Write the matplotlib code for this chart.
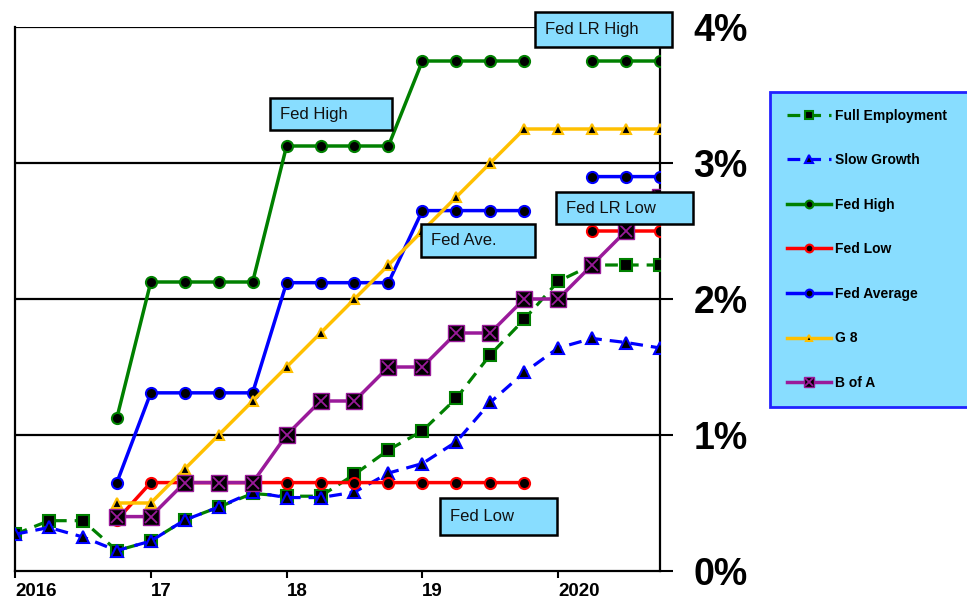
import numpy as np
import matplotlib.pyplot as plt
from matplotlib.patches import Rectangle

plt.rcParams['font.family'] = ['Liberation Sans', 'DejaVu Sans']

# quarterly dates, 2016Q1 .. 2020Q4
quarters = 2016.0 + 0.25 * np.arange(20)
nan = np.nan

# forecasts of the funds rate, %
full_employment = [0.27, 0.37, 0.37, 0.15, 0.22, 0.375, 0.47, 0.57, 0.55, 0.55,
                   0.71, 0.89, 1.03, 1.27, 1.59, 1.85, 2.13, 2.25, 2.25, 2.25]
slow_growth = [0.27, 0.32, 0.25, 0.15, 0.22, 0.375, 0.47, 0.58, 0.54, 0.54,
               0.58, 0.72, 0.79, 0.95, 1.24, 1.46, 1.64, 1.71, 1.68, 1.64]
# the Fed dots and the private forecasts start at 2016Q4
fed_high = [nan, nan, nan, 1.125, 2.125, 2.125, 2.125, 2.125, 3.125, 3.125,
            3.125, 3.125, 3.75, 3.75, 3.75, 3.75, nan, 3.75, 3.75, 3.75]
fed_low = [nan, nan, nan, 0.375, 0.65, 0.65, 0.65, 0.65, 0.65, 0.65,
           0.65, 0.65, 0.65, 0.65, 0.65, 0.65, nan, 2.5, 2.5, 2.5]
fed_average = [nan, nan, nan, 0.65, 1.31, 1.31, 1.31, 1.31, 2.12, 2.12,
               2.12, 2.12, 2.65, 2.65, 2.65, 2.65, nan, 2.9, 2.9, 2.9]
g8 = [nan, nan, nan, 0.5, 0.5, 0.75, 1.0, 1.25, 1.5, 1.75,
      2.0, 2.25, 2.5, 2.75, 3.0, 3.25, 3.25, 3.25, 3.25, 3.25]
b_of_a = [nan, nan, nan, 0.4, 0.4, 0.65, 0.65, 0.65, 1.0, 1.25,
          1.25, 1.5, 1.5, 1.75, 1.75, 2.0, 2.0, 2.25, 2.5, 2.75]

year_ticks = [2016, 2017, 2018, 2019, 2020]
year_labels = ['2016', '17', '18', '19', '2020']
pct_ticks = [0, 1, 2, 3, 4]
pct_labels = ['0%', '1%', '2%', '3%', '4%']

# callout boxes: text, x0, y0, width, height (data units)
callouts = [
    ('Fed High', 2017.88, 3.24, 0.90, 0.235),
    ('Fed LR High', 2019.83, 3.85, 1.01, 0.26),
    ('Fed Ave.', 2018.99, 2.31, 0.84, 0.245),
    ('Fed LR Low', 2019.985, 2.55, 1.01, 0.235),
    ('Fed Low', 2019.13, 0.265, 0.86, 0.27),
]

BOX_BLUE = '#88DDFF'
GREEN = '#008000'
ORANGE = '#FFC000'
PURPLE = '#9A1A9A'

fig = plt.figure(figsize=(9.67, 6.06), dpi=100)
ax = fig.add_axes([15 / 967, 1 - 571 / 606, 645 / 967, 544 / 606])

h_fe, = ax.plot(quarters, full_employment, color=GREEN, lw=2.3,
                ls=(0, (4, 2.5)), marker='s', ms=9, mfc='black', mec=GREEN,
                mew=1.5, label='Full Employment', zorder=3)
h_sg, = ax.plot(quarters, slow_growth, color='#0000FF', lw=2.3,
                ls=(0, (4, 2.5)), marker='^', ms=9, mfc='black', mec='#0000FF',
                mew=1.5, label='Slow Growth', zorder=3.1)
h_fh, = ax.plot(quarters, fed_high, color=GREEN, lw=2.5, marker='o', ms=8,
                mfc='black', mec=GREEN, mew=1.5, label='Fed High', zorder=3.2)
h_fl, = ax.plot(quarters, fed_low, color='#FF0000', lw=2.5, marker='o', ms=8,
                mfc='black', mec='#FF0000', mew=1.5, label='Fed Low', zorder=3.3)
h_fa, = ax.plot(quarters, fed_average, color='#0000FF', lw=2.5, marker='o',
                ms=8, mfc='black', mec='#0000FF', mew=1.5, label='Fed Average',
                zorder=3.4)
h_g8, = ax.plot(quarters, g8, color=ORANGE, lw=2.5, marker='^', ms=7,
                mfc='black', mec=ORANGE, mew=1.5, label='G 8', zorder=3.5)
h_ba, = ax.plot(quarters, b_of_a, color=PURPLE, lw=2.5, marker='s', ms=11,
                mfc='black', mec=PURPLE, mew=1, label='B of A', zorder=3.6)
h_bx, = ax.plot(quarters, b_of_a, ls='none', marker='x', ms=9, mec=PURPLE,
                mew=1.3, zorder=3.7)

ax.set_xlim(2016, 2020.75)
ax.set_ylim(0, 4)

for lvl in pct_ticks[1:]:
    ax.axhline(lvl, color='black', lw=1.6, zorder=2)

ax.spines['top'].set_visible(False)
for side in ['left', 'right', 'bottom']:
    ax.spines[side].set_linewidth(1.6)

ax.set_xticks(year_ticks)
ax.set_xticklabels(year_labels, fontsize=13.5, fontweight='bold', ha='left')
ax.tick_params(axis='x', direction='out', length=5, width=1.5, pad=4)

ax.yaxis.tick_right()
ax.set_yticks(pct_ticks)
ax.set_yticklabels(pct_labels, fontsize=27, fontweight='bold')
ax.tick_params(axis='y', direction='out', length=9, width=1.5, pad=15)

for text, x0, y0, w, h in callouts:
    ax.add_patch(Rectangle((x0, y0), w, h, facecolor=BOX_BLUE,
                           edgecolor='black', lw=1.8, zorder=5, clip_on=False))
    ax.text(x0 + 0.075, y0 + h / 2, text, fontsize=12, va='center',
            ha='left', color='#111111', zorder=6, clip_on=False)

# legend sits to the right of the plot and runs off the figure edge
leg = ax.legend([h_fe, h_sg, h_fh, h_fl, h_fa, h_g8, (h_ba, h_bx)],
                ['Full Employment', 'Slow Growth', 'Fed High', 'Fed Low',
                 'Fed Average', 'G 8', 'B of A'],
                loc='upper left',
                bbox_to_anchor=(770 / 967, 1 - 406 / 606, 0.3, 314 / 606),
                bbox_transform=fig.transFigure, mode='expand',
                prop={'weight': 'bold', 'size': 10},
                labelspacing=2.2, borderpad=1.2, handlelength=3.2,
                handletextpad=0.3, markerscale=0.7, fancybox=False,
                framealpha=1, borderaxespad=0)
leg.get_frame().set_facecolor(BOX_BLUE)
leg.get_frame().set_edgecolor('#2222FF')
leg.get_frame().set_linewidth(2)

fig.savefig('out.png', dpi=100)
